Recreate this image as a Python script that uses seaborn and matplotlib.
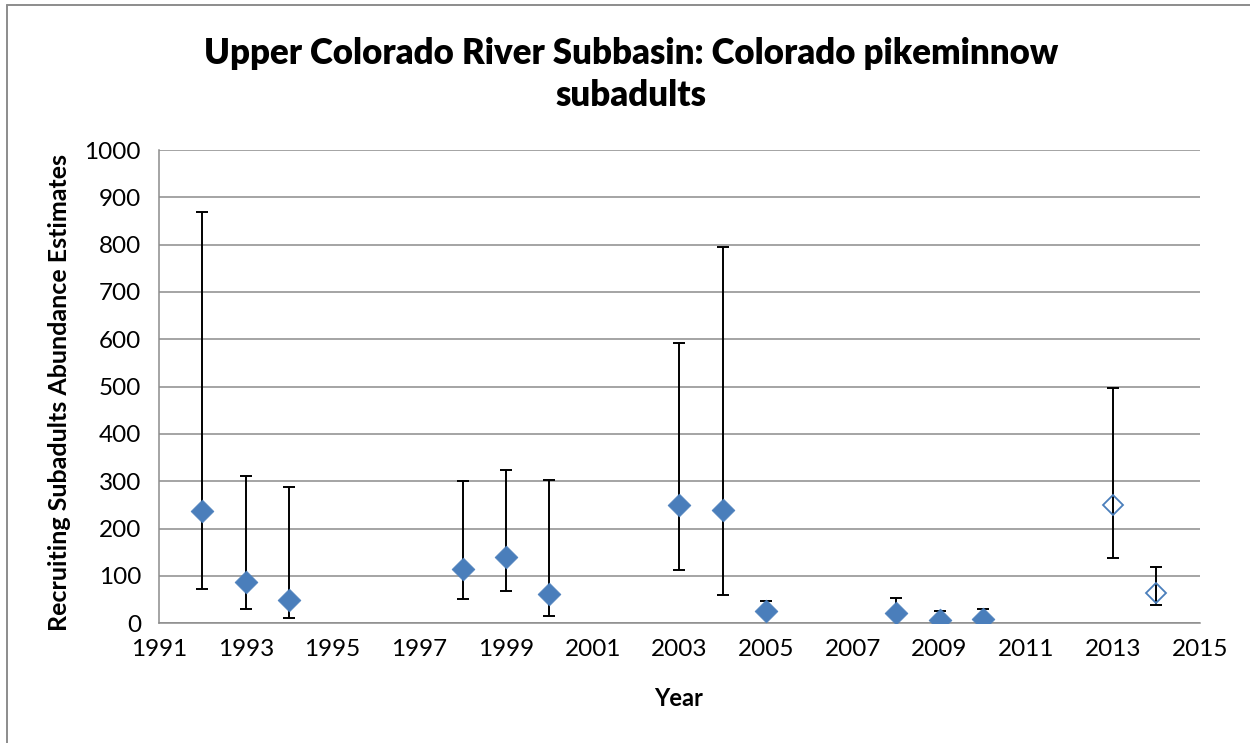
import matplotlib
matplotlib.use("Agg")
import matplotlib.pyplot as plt
import seaborn as sns
import pandas as pd
import numpy as np
from matplotlib.lines import Line2D

# Abundance estimates of recruiting subadults with confidence limits
years = [1992, 1993, 1994, 1998, 1999, 2000, 2003, 2004, 2005, 2008, 2009, 2010, 2013, 2014]
estimates = [237, 87, 49, 114, 141, 62, 249, 239, 25, 22, 7, 9, 251, 63]
upper_limits = [870, 311, 287, 301, 323, 302, 593, 796, 48, 54, 27, 30, 497, 120]
lower_limits = [73, 31, 12, 52, 68, 16, 113, 59, 22, 19, 4, 6, 137, 39]
preliminary = [False] * 12 + [True, True]

y_ticks = list(range(0, 1001, 100))
x_ticks = list(range(1991, 2016, 2))

BLUE = "#4a7ebb"
GRID = "#8c8c8c"

df = pd.DataFrame({
    "Year": years,
    "Estimate": estimates,
    "Upper": upper_limits,
    "Lower": lower_limits,
    "Preliminary": preliminary,
})

sns.set_style("white")
plt.rcParams["font.family"] = ["Lato", "DejaVu Sans"]

fig = plt.figure(figsize=(12.5, 7.43), dpi=100)
ax = fig.add_axes([0.1272, 0.1611, 0.8326, 0.6370])

# Confidence intervals drawn behind the markers
err = np.array([df["Estimate"] - df["Lower"], df["Upper"] - df["Estimate"]])
ax.errorbar(df["Year"], df["Estimate"], yerr=err, fmt="none", ecolor="black",
            elinewidth=1.4, capsize=4.4, capthick=1.4, zorder=2)

final = df[~df["Preliminary"]]
prelim = df[df["Preliminary"]]
sns.scatterplot(data=final, x="Year", y="Estimate", ax=ax, marker="D", s=135,
                color=BLUE, edgecolor=BLUE, linewidth=0.5, zorder=3, legend=False)
ax.plot(prelim["Year"], prelim["Estimate"], linestyle="none", marker="D",
        markersize=10.2, markerfacecolor="none", markeredgecolor=BLUE,
        markeredgewidth=1.3, zorder=3)

ax.set_xlim(1991, 2015)
ax.set_ylim(0, 1000)
ax.set_xticks(x_ticks)
ax.set_yticks(y_ticks)
ax.set_xticklabels([str(t) for t in x_ticks])
ax.set_yticklabels([str(t) for t in y_ticks])
ax.yaxis.grid(True, color=GRID, linewidth=1.1)
ax.xaxis.grid(False)
ax.set_axisbelow(True)

for side in ("top", "right"):
    ax.spines[side].set_visible(False)
for side in ("left", "bottom"):
    ax.spines[side].set_color(GRID)
    ax.spines[side].set_linewidth(1.1)

ax.tick_params(axis="both", which="major", direction="out", length=5, width=1.1,
               color=GRID, labelsize=17.5, labelcolor="black")
ax.tick_params(axis="y", pad=8)
ax.tick_params(axis="x", pad=6)
ax.set_xlabel("")
ax.set_ylabel("")

fig.text(0.505, 0.9, "Upper Colorado River Subbasin: Colorado pikeminnow\nsubadults",
         ha="center", va="center", fontsize=25, fontweight="heavy",
         linespacing=1.35, color="black")
fig.text(0.048, 0.472, "Recruiting Subadults Abundance Estimates", rotation=90,
         ha="center", va="center", fontsize=18, fontweight="bold", color="black")
fig.text(0.543, 0.06, "Year", ha="center", va="center", fontsize=17,
         fontweight="bold", color="black")

# Chart-area border along the left and top edges
fig.add_artist(Line2D([0.0058, 0.0058], [0.0, 0.9935], transform=fig.transFigure,
                      color="#8c8c8c", linewidth=1.4))
fig.add_artist(Line2D([0.0058, 1.0], [0.9935, 0.9935], transform=fig.transFigure,
                      color="#8c8c8c", linewidth=1.4))

fig.savefig("out.png", dpi=100)
